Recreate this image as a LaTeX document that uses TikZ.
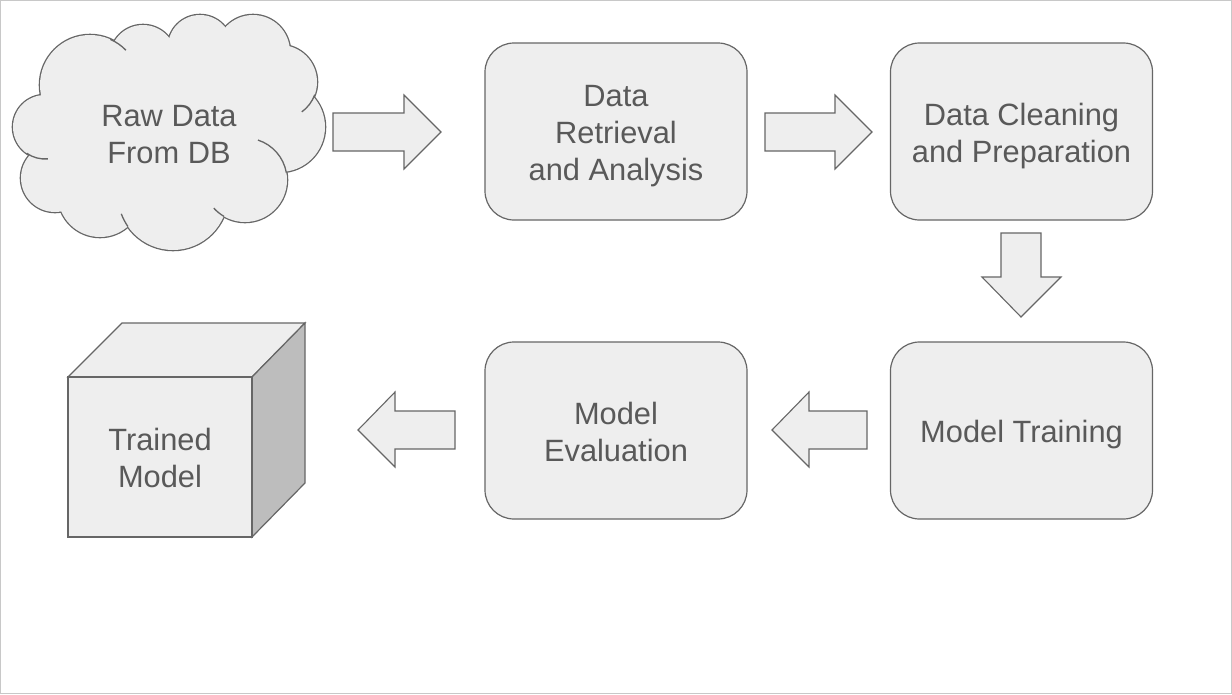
\documentclass[tikz,border=0pt]{standalone}
\usepackage{fontspec}
\setmainfont{Liberation Sans}
\definecolor{boxfill}{HTML}{EEEEEE}
\definecolor{boxline}{HTML}{666666}
\definecolor{txt}{HTML}{595959}
\definecolor{frame}{HTML}{C8C8C8}
\definecolor{side}{HTML}{BDBDBD}
\tikzset{
  stepbox/.style={draw=boxline, fill=boxfill, line width=1.2pt, rounded corners=29pt,
    minimum width=262pt, minimum height=177pt, inner sep=0pt},
  label/.style={inner sep=0pt, align=center, text=txt, font=\fontsize{30.8}{37}\selectfont},
  blockarrow/.style={draw=boxline, fill=boxfill, line width=1.1pt, line join=miter},
  cubeface/.style={draw=boxline, line width=1.2pt, line join=miter},
  hook/.style={draw=boxline, line width=1.3pt},
}
\begin{document}
\begin{tikzpicture}[x=1pt,y=-1pt]
\useasboundingbox (0,0) rectangle (1232,694);
\draw[frame, line width=1pt] (0.5,0.5) rectangle (1231.5,693.5);

% cloud
\foreach \cx/\cy/\r in {90/85/50, 45/127/32, 55/178/34, 100/195/42, 173/195/55, 245/180/42, 280/127/45, 280/82/37, 253/52/37, 200/47/32, 143/58/33}
  \draw[boxline, line width=2.6pt] (\cx,\cy) circle[radius=\r pt];
\fill[boxfill] (170,135) ellipse[x radius=105pt, y radius=75pt];
\foreach \cx/\cy/\r in {90/85/50, 45/127/32, 55/178/34, 100/195/42, 173/195/55, 245/180/42, 280/127/45, 280/82/37, 253/52/37, 200/47/32, 143/58/33}
  \fill[boxfill] (\cx,\cy) circle[radius=\r pt];
% inner hooks of the cloud
\draw[hook] (245,180) ++(-10:42) arc[start angle=-10, end angle=-72, radius=42];
\draw[hook] (280,82) ++(20:37) arc[start angle=20, end angle=54, radius=37];
\draw[hook] (90,85) ++(-66:50) arc[start angle=-66, end angle=-44, radius=50];
\draw[hook] (45,127) ++(125:32) arc[start angle=125, end angle=85, radius=32];
\draw[hook] (173,195) ++(145:55) arc[start angle=145, end angle=160, radius=55];
\draw[hook] (245,180) ++(120:42) arc[start angle=120, end angle=138, radius=42];
\node[label] (raw) at (169,135) {Raw Data\\From DB};

% boxes
\node[stepbox] (retrieval) at (616,131.5) {};
\node[stepbox] (cleaning) at (1021.5,131.5) {};
\node[stepbox] (training) at (1021.5,430.5) {};
\node[stepbox] (evaluation) at (616,430.5) {};
\node[label] (retrievaltext) at ([yshift=-4.5pt]retrieval.center) {Data\\Retrieval\\and Analysis};
\node[label] (cleaningtext) at ([yshift=-4.5pt]cleaning.center) {Data Cleaning\\and Preparation};
\node[label] (trainingtext) at ([yshift=-4pt]training.center) {Model Training};
\node[label] (evaluationtext) at ([yshift=-1.5pt]evaluation.center) {Model\\Evaluation};

% cube
\draw[cubeface, fill=boxfill] (68,377) -- (122,323) -- (305,323) -- (252,377) -- cycle;
\draw[cubeface, fill=side] (252,377) -- (305,323) -- (305,483) -- (252,537) -- cycle;
\node[cubeface, fill=boxfill, minimum width=184pt, minimum height=160pt, inner sep=0pt] (front) at (160,457) {};
\node[label] (trained) at ([yshift=-1pt]front.center) {Trained\\Model};

% block arrows
\draw[blockarrow] (333,113) -- (404,113) -- (404,95) -- (441,132) -- (404,169) -- (404,151) -- (333,151) -- cycle;
\draw[blockarrow] (765,113) -- (835,113) -- (835,95) -- (872,132) -- (835,169) -- (835,151) -- (765,151) -- cycle;
\draw[blockarrow] (1001,233) -- (1041,233) -- (1041,277) -- (1061,277) -- (1021,317) -- (982,277) -- (1001,277) -- cycle;
\draw[blockarrow] (867,411) -- (809,411) -- (809,392) -- (772,430) -- (809,467) -- (809,449) -- (867,449) -- cycle;
\draw[blockarrow] (455,411) -- (395,411) -- (395,392) -- (358,430) -- (395,467) -- (395,449) -- (455,449) -- cycle;
\end{tikzpicture}
\end{document}
